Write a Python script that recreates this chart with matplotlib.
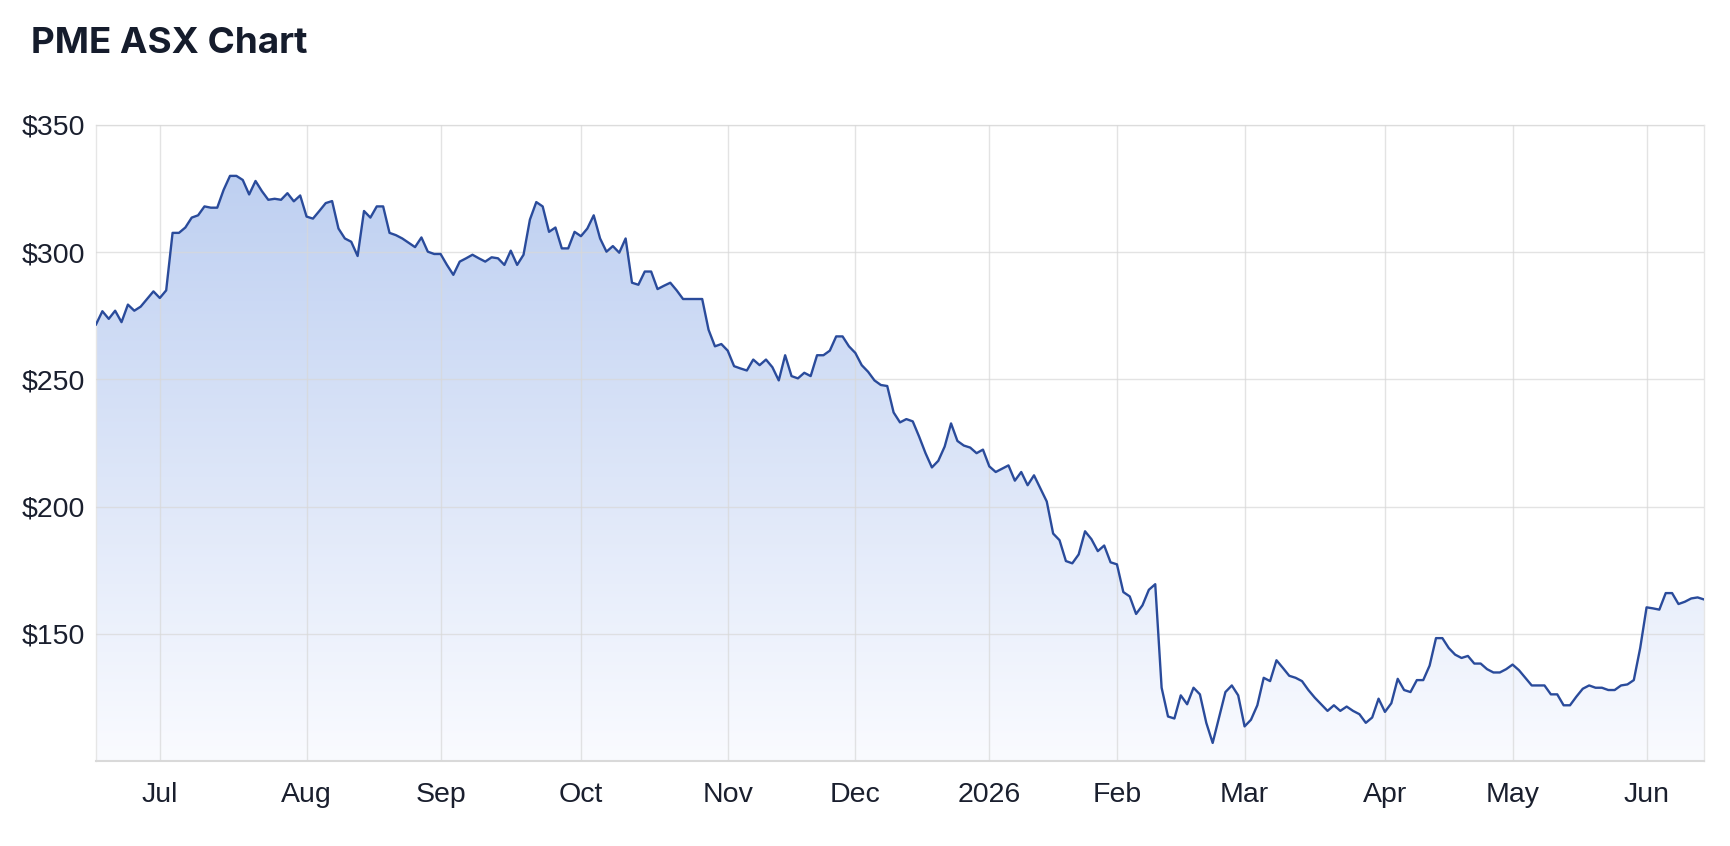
import matplotlib.pyplot as plt
import numpy as np
import pandas as pd
from matplotlib.colors import LinearSegmentedColormap

# ASX closing prices, one per trading day (17 Jun 2025 - 15 Jun 2026)
holidays = ['2025-12-25', '2025-12-26', '2026-01-01', '2026-01-26',
            '2026-04-03', '2026-04-06', '2026-06-08']

prices_2025 = [
    271.6, 276.8, 273.8, 277.0, 272.5, 279.4, 277.0, 278.6, 281.6, 284.6,
    282.0, 285.0, 307.6, 307.6, 309.7, 313.6, 314.5, 318.0, 317.5, 317.5,
    324.5, 330.0, 330.0, 328.4, 322.7, 328.0, 324.0, 320.6, 321.0, 320.6,
    323.2, 320.0, 322.3, 314.0, 313.2, 316.2, 319.3, 320.1, 309.3, 305.4,
    304.1, 298.5, 316.2, 313.6, 318.0, 318.0, 307.6, 306.7, 305.4, 303.7,
    302.0, 305.8, 300.2, 299.3, 299.3, 295.0, 291.1, 296.3, 297.6, 299.0,
    297.6, 296.3, 298.0, 297.6, 295.0, 300.6, 295.0, 299.0, 312.8, 319.7,
    318.0, 308.0, 309.7, 301.5, 301.5, 308.0, 306.3, 309.3, 314.5, 305.4,
    300.2, 302.4, 299.8, 305.4, 288.0, 287.2, 292.4, 292.4, 285.5, 286.8,
    288.0, 285.0, 281.6, 281.6, 281.6, 281.6, 269.5, 263.0, 263.9, 261.3,
    255.2, 254.3, 253.5, 257.8, 255.6, 257.8, 254.8, 249.6, 259.5, 251.3,
    250.4, 252.6, 251.3, 259.5, 259.5, 261.3, 266.9, 266.9, 263.0, 260.4,
    255.6, 253.0, 249.6, 247.8, 247.4, 237.0, 233.1, 234.4, 233.5, 227.5,
    221.0, 215.4, 218.0, 223.6, 232.7, 225.8, 224.0, 223.2, 221.0, 222.4,
]
prices_2026 = [
    215.8, 213.6, 214.9, 216.2, 210.2, 213.6, 208.4, 212.3, 207.1, 202.0,
    189.4, 186.8, 178.6, 177.7, 181.2, 190.3, 187.2, 182.5, 184.7, 178.1,
    177.3, 166.4, 164.7, 157.8, 161.2, 167.3, 169.5, 128.8, 117.5, 116.7,
    125.8, 122.3, 128.8, 126.2, 115.0, 107.1, 117.1, 127.1, 129.7, 125.8,
    113.6, 116.2, 121.9, 132.7, 131.4, 139.6, 136.6, 133.5, 132.7, 131.4,
    127.9, 124.9, 122.3, 119.7, 121.9, 119.7, 121.4, 119.7, 118.4, 115.0,
    117.1, 124.5, 119.3, 122.7, 132.3, 127.9, 127.1, 131.8, 131.8, 137.5,
    148.3, 148.3, 144.4, 141.8, 140.5, 141.3, 138.3, 138.3, 136.1, 134.8,
    134.8, 136.1, 137.9, 135.7, 132.7, 129.7, 129.7, 129.7, 126.2, 126.2,
    121.9, 121.9, 125.3, 128.4, 129.7, 128.8, 128.8, 127.9, 127.9, 129.7,
    130.1, 131.8, 144.4, 160.4, 160.0, 159.5, 166.0, 166.0, 161.7, 162.6,
    163.9, 164.3, 163.5,
]
prices = np.array(prices_2025 + prices_2026)

dates = pd.bdate_range('2025-06-17', periods=len(prices), freq='C', holidays=holidays)
x = np.arange(len(prices))

# first trading day of each month -> tick
tick_pos = []
tick_lab = []
for i in range(1, len(dates)):
    if dates[i].month != dates[i - 1].month:
        tick_pos.append(i)
        tick_lab.append('2026' if dates[i].month == 1 else dates[i].strftime('%b'))

fig = plt.figure(figsize=(17.3, 8.46), dpi=100)
ax = fig.add_axes([96 / 1730, 85 / 846, 1608 / 1730, 636 / 846])

ymin, ymax = 100, 350
ax.set_xlim(0, len(prices) - 1)
ax.set_ylim(ymin, ymax)

# gradient area under the line
cmap = LinearSegmentedColormap.from_list('fade', ['#fafbff', '#b9ccf0'])
grad = np.linspace(0, 1, 256).reshape(-1, 1)
img = ax.imshow(grad, cmap=cmap, aspect='auto', origin='lower',
                extent=[0, len(prices) - 1, ymin, ymax], zorder=1)
poly = ax.fill_between(x, prices, ymin, color='none', lw=0)
img.set_clip_path(poly.get_paths()[0], transform=ax.transData)

ax.plot(x, prices, color='#2a4b9b', lw=1.7, zorder=4)

# grid
ax.set_yticks([150, 200, 250, 300, 350])
ax.set_yticklabels(['$150', '$200', '$250', '$300', '$350'])
ax.set_xticks(tick_pos)
ax.set_xticklabels(tick_lab)
ax.grid(True, color='#d8d8d8', lw=1, alpha=0.7, zorder=2)
ax.set_axisbelow(False)
for ln in ax.get_xgridlines() + ax.get_ygridlines():
    ln.set_zorder(2)

for s in ['top', 'left', 'right']:
    ax.spines[s].set_color('#e6e6e6')
    ax.spines[s].set_linewidth(1)
ax.spines['bottom'].set_color('#d9d9d9')
ax.spines['bottom'].set_linewidth(1.5)

ax.tick_params(length=0, labelsize=20.5, colors='#1a1f2e')
ax.tick_params(axis='y', pad=8)
ax.tick_params(axis='x', pad=15)
for lab in ax.get_xticklabels() + ax.get_yticklabels():
    lab.set_family(['Liberation Sans', 'DejaVu Sans'])

fig.text(31 / 1730, (846 - 53) / 846, 'PME ASX Chart', fontsize=26.5,
         fontweight='bold', family=['Inter', 'DejaVu Sans'], color='#151c2c',
         va='baseline', ha='left')

fig.savefig('out.png', dpi=100)
